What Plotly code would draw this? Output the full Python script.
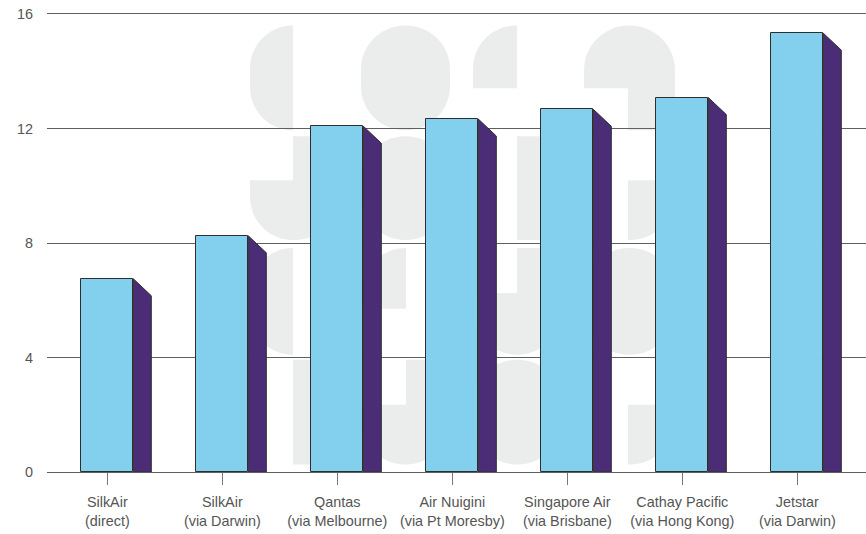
import plotly.graph_objects as go

# ---------------- data ----------------
airlines = ["SilkAir", "SilkAir", "Qantas", "Air Nuigini", "Singapore Air", "Cathay Pacific", "Jetstar"]
routes = ["(direct)", "(via Darwin)", "(via Melbourne)", "(via Pt Moresby)", "(via Brisbane)", "(via Hong Kong)", "(via Darwin)"]
hours = [6.75, 8.25, 12.08, 12.33, 12.67, 13.08, 15.33]
y_ticks = [0, 4, 8, 12, 16]

# ---------------- styling / geometry ----------------
W, H = 866, 534
ML, MR, MT, MB = 47, 0, 13.5, 61.5
PX_PER_CAT = 115.0
FIRST_CENTER_PX = 107.3
x_lo = (ML - FIRST_CENTER_PX) / PX_PER_CAT
x_hi = x_lo + (W - ML - MR) / PX_PER_CAT
Y_MAX = 16
px_per_y = (H - MT - MB) / Y_MAX

BAR_W = 52 / PX_PER_CAT          # front face width (category units)
DEPTH_X = 18 / PX_PER_CAT        # side face horizontal depth
DEPTH_Y = 17 / px_per_y          # side face vertical drop

FRONT = "#82cfee"
SIDE = "#4b2c77"
EDGE = "#2e2e2e"
WM = "#ebecec"
GRID = "#5f5f5f"

xs = list(range(len(airlines)))
labels = [f"{a}<br>{r}" for a, r in zip(airlines, routes)]

fig = go.Figure()

# side faces (parallelograms), computed from the data through the axes
sx, sy = [], []
for x, v in zip(xs, hours):
    r = x + BAR_W / 2
    sx += [r, r + DEPTH_X, r + DEPTH_X, r, r, None]
    sy += [v, v - DEPTH_Y, 0, 0, v, None]
fig.add_trace(go.Scatter(x=sx, y=sy, mode="lines", fill="toself", fillcolor=SIDE,
                         line=dict(color=EDGE, width=1), hoverinfo="skip", showlegend=False))

# front faces
fig.add_trace(go.Bar(x=xs, y=hours, width=BAR_W, marker=dict(color=FRONT, line=dict(color=EDGE, width=1)),
                     hoverinfo="skip", showlegend=False))

# ---------------- watermark (decorative, pixel-space) ----------------
def dx(px):
    return (px - FIRST_CENTER_PX) / PX_PER_CAT

def dy(py):
    return (H - MB - py) / px_per_y

K = 0.5523

def rrect(x0, y0, x1, y1, tl=0, tr=0, br=0, bl=0):
    w, h = x1 - x0, y1 - y0
    def cl(r):
        return min(r, w), min(r, h)
    rx, ry = cl(tl)
    path = f"M {dx(x0 + rx)},{dy(y0)} "
    rx2, ry2 = cl(tr)
    path += f"L {dx(x1 - rx2)},{dy(y0)} "
    if tr:
        path += (f"C {dx(x1 - rx2 + K * rx2)},{dy(y0)} {dx(x1)},{dy(y0 + ry2 - K * ry2)} "
                 f"{dx(x1)},{dy(y0 + ry2)} ")
    rx3, ry3 = cl(br)
    path += f"L {dx(x1)},{dy(y1 - ry3)} "
    if br:
        path += (f"C {dx(x1)},{dy(y1 - ry3 + K * ry3)} {dx(x1 - rx3 + K * rx3)},{dy(y1)} "
                 f"{dx(x1 - rx3)},{dy(y1)} ")
    rx4, ry4 = cl(bl)
    path += f"L {dx(x0 + rx4)},{dy(y1)} "
    if bl:
        path += (f"C {dx(x0 + rx4 - K * rx4)},{dy(y1)} {dx(x0)},{dy(y1 - ry4 + K * ry4)} "
                 f"{dx(x0)},{dy(y1 - ry4)} ")
    path += f"L {dx(x0)},{dy(y0 + ry)} "
    if tl:
        path += (f"C {dx(x0)},{dy(y0 + ry - K * ry)} {dx(x0 + rx - K * rx)},{dy(y0)} "
                 f"{dx(x0 + rx)},{dy(y0)} ")
    path += "Z"
    return path

wm_parts = [
    # row 1
    (250, 25, 293, 130, 43, 0, 0, 43),
    (361, 25, 450, 130, 44, 44, 44, 44),
    (473, 25, 517, 88, 43, 0, 0, 0),
    (584, 25, 675, 88, 45, 45, 0, 0),
    (628, 86, 675, 130, 0, 0, 0, 0),
    # row 2
    (293, 136, 340, 240, 0, 0, 45, 0),
    (250, 180, 294, 240, 0, 0, 0, 43),
    (361, 136, 450, 240, 44, 44, 44, 44),
    (517, 136, 562, 240, 0, 0, 0, 0),
    (628, 180, 675, 240, 0, 0, 45, 0),
    # row 3
    (250, 248, 293, 355, 43, 0, 0, 43),
    (361, 248, 406, 309, 45, 0, 0, 0),
    (517, 248, 562, 355, 0, 0, 45, 0),
    (473, 293, 518, 355, 0, 0, 0, 44),
    (584, 248, 675, 355, 45, 45, 45, 45),
    # row 4
    (293, 360, 340, 465, 0, 0, 0, 0),
    (406, 360, 450, 465, 0, 0, 44, 0),
    (361, 405, 407, 465, 0, 0, 0, 44),
    (473, 360, 562, 465, 44, 44, 44, 44),
    (628, 405, 675, 465, 0, 0, 45, 0),
]
shapes = []
for p in wm_parts:
    shapes.append(dict(type="path", xref="x", yref="y", path=rrect(*p), fillcolor=WM,
                       line=dict(width=0), layer="below"))

FONT = dict(family="Liberation Sans, Arial, sans-serif", size=14.4, color="#555555")

fig.update_layout(
    width=W, height=H,
    margin=dict(l=ML, r=MR, t=MT, b=MB, pad=0),
    paper_bgcolor="white", plot_bgcolor="white",
    font=FONT,
    shapes=shapes,
    bargap=0,
    xaxis=dict(range=[x_lo, x_hi], tickmode="array", tickvals=xs, ticktext=labels,
               ticks="outside", ticklen=12, tickcolor="#777777", tickwidth=1,
               ticklabelstandoff=5,
               showgrid=False, zeroline=False, showline=True, mirror=True,
               linecolor=GRID, linewidth=1, fixedrange=True, tickfont=FONT),
    yaxis=dict(range=[0, Y_MAX], tickmode="array", tickvals=y_ticks,
               showgrid=True, gridcolor=GRID, gridwidth=1,
               zeroline=False, showline=False, ticks="", ticklabelstandoff=13,
               fixedrange=True, tickfont=FONT),
)

fig.write_html("out.html")
